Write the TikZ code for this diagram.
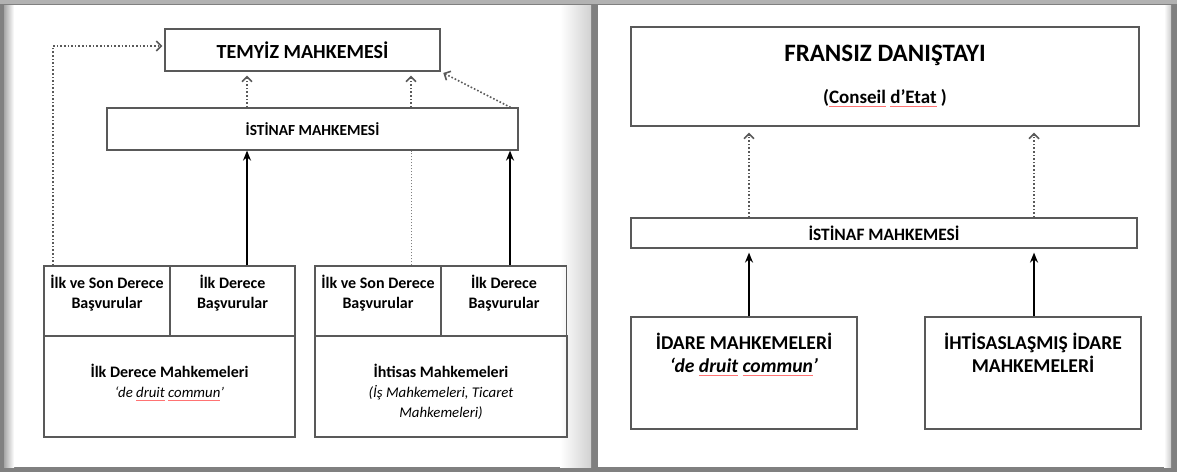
\documentclass[tikz,border=0pt]{standalone}
\usepackage{fontspec}
\setmainfont{Carlito}
\usetikzlibrary{arrows.meta,positioning}

\newcommand\buyukyazi{\fontsize{10}{12}\selectfont\bfseries}
\newcommand\basyazi{\fontsize{12.5}{15}\selectfont\bfseries}
\newcommand\ortayazi{\fontsize{9.8}{11.5}\selectfont\bfseries}
\newcommand\kucukyazi{\fontsize{7.4}{10}\selectfont}
\newcommand\kalinyazi[1]{{\fontsize{8}{10}\selectfont\bfseries #1}}
\newcommand\yanlis[1]{\textcolor{red!55}{\underline{\textcolor{black}{#1}}}}

\tikzset{
  kutu/.style={draw=black!65, line width=.6pt, inner sep=0pt},
  yazi/.style={align=center, inner sep=0pt},
  ok/.style={-{Stealth[length=5pt,width=4pt]}, line width=1pt},
  noktali/.style={densely dotted, line width=.8pt, black!65,
    -{Straight Barb[length=2.5pt,width=5pt]}},
}

\begin{document}
\begin{tikzpicture}[x=.5pt,y=-.5pt]
	% Zemin
	\fill[black!50] (0,0) rectangle (1177,472);
	\fill[black!30] (0,0) rectangle (1177,4);
	\fill[white] (4,5) rectangle (591,467);
	\shade[left color=black!35, right color=white] (4,5) rectangle (14,467);
	\shade[left color=white, right color=black!18] (560,5) rectangle (591,467);
	\fill[white] (598,5) rectangle (1171,467);
	\shade[left color=white, right color=black!20] (1164,5) rectangle (1171,467);
	
	% Sol sayfa: kutular
	\node[kutu, minimum width=137.5pt, minimum height=21pt, font=\buyukyazi] (temyiz) at (302.5,50) {TEMYİZ MAHKEMESİ};
	\node[kutu, minimum width=205.5pt, minimum height=21pt, font=\fontsize{7.7}{9}\selectfont\bfseries] (istinafA) at (312.5,129) {İSTİNAF MAHKEMESİ};
	
	\node[kutu, minimum width=63pt, minimum height=35pt] (ilkson1) at (107,301) {};
	\node[kutu, minimum width=62.5pt, minimum height=35pt] (ilkder1) at (232.5,301) {};
	\node[kutu, minimum width=125.5pt, minimum height=50.5pt] (mahk1) at (169.5,386.5) {};
	\node[kutu, minimum width=63pt, minimum height=35pt] (ilkson2) at (378,301) {};
	\node[kutu, minimum width=62.5pt, minimum height=35pt] (ilkder2) at (504,301) {};
	\node[kutu, minimum width=126pt, minimum height=50.5pt] (mahk2) at (441,386.5) {};
	
	\tikzset{basvuru/.style={yazi, font=\fontsize{8}{10}\selectfont\bfseries}}
	\node[basvuru, below=4.5pt of ilkson1.north] (ilkson1y) {İlk ve Son Derece\\Başvurular};
	\node[basvuru, below=4.5pt of ilkder1.north] (ilkder1y) {İlk Derece\\Başvurular};
	\node[basvuru, below=4.5pt of ilkson2.north] (ilkson2y) {İlk ve Son Derece\\Başvurular};
	\node[basvuru, below=4.5pt of ilkder2.north] (ilkder2y) {İlk Derece\\Başvurular};
	\node[yazi, font=\kucukyazi, below=14pt of mahk1.north] (mahk1y) {\kalinyazi{İlk Derece Mahkemeleri}\\\textit{‘de \yanlis{druit} \yanlis{commun}’}};
	\node[yazi, font=\kucukyazi, below=14pt of mahk2.north] (mahk2y) {\kalinyazi{İhtisas Mahkemeleri}\\\textit{(İş Mahkemeleri, Ticaret}\\\textit{Mahkemeleri)}};
	
	% Sol sayfa: oklar
	\coordinate (solkose) at (53,46);
	\coordinate (kol1) at (247,0);
	\coordinate (kol2) at (411,0);
	\coordinate (kol3) at (510,0);
	\draw[noktali, shorten >=1pt] (ilkson1.north -| solkose) -- (solkose) -- (solkose -| temyiz.west);
	\draw[noktali, shorten >=2pt] (istinafA.north -| kol1) -- (temyiz.south -| kol1);
	\draw[noktali, shorten >=2pt] (istinafA.north -| kol2) -- (temyiz.south -| kol2);
	\draw[noktali, shorten >=1.5pt] ([xshift=-4pt]istinafA.north east) -- (temyiz.south east);
	\draw[densely dotted, black!50, line width=.5pt] (ilkson2.north -| kol2) -- (istinafA.south -| kol2);
	\draw[ok] (ilkder1.north -| kol1) -- (istinafA.south -| kol1);
	\draw[ok] (ilkder2.north -| kol3) -- (istinafA.south -| kol3);
	
	% Sag sayfa: kutular
	\node[kutu, minimum width=254pt, minimum height=49.5pt, align=center] (fransiz) at (885,76.5) {\basyazi FRANSIZ DANIŞTAYI\\[9pt]\fontsize{9.5}{11}\selectfont\bfseries(\yanlis{Conseil} \yanlis{d’Etat} )};
	\node[kutu, minimum width=253pt, minimum height=15pt, font=\fontsize{8.7}{10}\selectfont\bfseries] (istinafB) at (884,233) {İSTİNAF MAHKEMESİ};
	\node[kutu, minimum width=113pt, minimum height=56pt] (idare) at (744,373) {};
	\node[kutu, minimum width=108pt, minimum height=56pt] (ihtisas) at (1033,373) {};
	\node[yazi, font=\ortayazi, below=8pt of idare.north] (idarey) {İDARE MAHKEMELERİ\\\textit{‘de \yanlis{druit} \yanlis{commun}’}};
	\node[yazi, font=\ortayazi, below=8pt of ihtisas.north] (ihtisasy) {İHTİSASLAŞMIŞ İDARE\\MAHKEMELERİ};
	
	% Sag sayfa: oklar
	\coordinate (kol4) at (749,0);
	\coordinate (kol5) at (1034,0);
	\draw[noktali, shorten >=3pt] (istinafB.north -| kol4) -- (fransiz.south -| kol4);
	\draw[noktali, shorten >=3pt] (istinafB.north -| kol5) -- (fransiz.south -| kol5);
	\draw[ok, shorten >=2pt] (idare.north -| kol4) -- (istinafB.south -| kol4);
	\draw[ok, shorten >=2pt] (ihtisas.north -| kol5) -- (istinafB.south -| kol5);
\end{tikzpicture}
\end{document}
